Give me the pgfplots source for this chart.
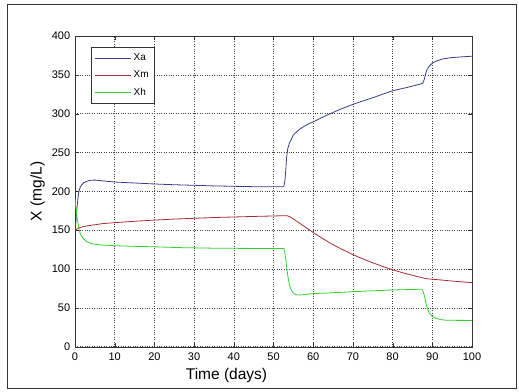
\documentclass[border=0pt]{standalone}
\usepackage{pgfplots}
\pgfplotsset{compat=1.18}
\usepackage{fontspec}
\setmainfont{Liberation Sans}
\definecolor{cXa}{RGB}{60,60,140}
\definecolor{cXm}{RGB}{165,45,55}
\definecolor{cXh}{RGB}{50,210,50}
\begin{document}
\begin{tikzpicture}[x=1pt,y=1pt]
\useasboundingbox (0,0) rectangle (519,391);
\fill[white] (0,0) rectangle (519,391);
\draw[black!80, line width=1pt] (7.5,2.5) rectangle (516,386);
\begin{axis}[
  at={(75pt,44.3pt)}, anchor=south west,
  width=397pt, height=310.7pt, scale only axis,
  xmin=0, xmax=100, ymin=0, ymax=400,
  xtick={0,10,...,100}, ytick={0,50,...,400},
  grid=major,
  major grid style={dotted, black!75, line width=0.6pt},
  axis line style={black!80},
  tick align=inside,
  major tick length=4pt,
  tick style={black!80},
  ticklabel style={font=\fontsize{11}{12}\selectfont},
  /pgf/number format/assume math mode=true,
  xticklabel style={yshift=-3pt},
  yticklabel style={xshift=-1.3pt},
  xlabel={Time (days)},
  ylabel={X (mg/L)},
  xlabel style={at={(axis description cs:0.3816,-0.0675)}, anchor=north, inner sep=0pt, font=\fontsize{15.5}{17}\selectfont},
  ylabel style={at={(axis description cs:-0.0756,0.5)}, anchor=south, inner sep=0pt, font=\fontsize{15.5}{17}\selectfont},
  legend style={at={(axis description cs:0.0395,0.965)}, anchor=north west, draw=black!80, font=\fontsize{10}{11}\selectfont, inner xsep=4pt, inner ysep=5pt, row sep=4.5pt, nodes={inner sep=2pt}, cells={anchor=west}},
  legend image code/.code={\draw[#1, line width=0.8pt] (0pt,0pt) -- (36pt,0pt);},
  every axis plot/.append style={line width=0.8pt},
]
\addplot[cXa] coordinates {
(0,150) (0.2,160) (0.4,172) (0.6,184) (0.8,194) (1.0,200) (1.3,205) (1.7,208.5) (2.2,211) (3,213) (4,214.3) (5,214.5) (6,214) (8,213) (10,212) (14,211) (20,209.5) (25,208.5) (30,207.8) (35,207) (40,206.5) (45,206) (50,205.8) (52.6,205.8) (52.9,215) (53.1,228) (53.3,244) (53.6,255) (54,262) (54.6,268) (55.0,272.5) (55.8,276.5) (56.6,280) (57.5,283) (58.7,286.5) (60,289.5) (62,294.5) (64.3,300) (67,306) (70,312) (72,315.5) (75,320.5) (78,326) (80,329.5) (83,333) (85,335.5) (87.6,339) (87.9,343) (88.2,349) (88.6,356) (89,359.5) (89.4,362) (90,365) (91.1,368) (92.5,370.3) (94.5,372) (97,373) (100,374)
};
\addlegendentry{Xa\hspace{5pt}}
\addplot[cXm] coordinates {
(0,150) (0.5,151.5) (1,153) (2,154.5) (3,155.5) (5,157) (7,158.5) (10,159.7) (15,161.5) (20,163) (25,164.3) (30,165.3) (35,166.3) (40,167) (45,167.7) (50,168.3) (53,168.7) (53.5,168.5) (54,167.5) (55,164.5) (56,161) (57,157.5) (58,154) (60,147) (62,140.5) (64.2,133.5) (67,126) (70,118.5) (73,112) (75,108) (78,102.5) (80,99) (83,94.5) (85,92) (87.6,88.5) (89,87.3) (92,86) (95,84.5) (100,82.5)
};
\addlegendentry{Xm}
\addplot[cXh] coordinates {
(0,190) (0.2,180) (0.4,170) (0.7,160) (1,152) (1.3,146) (1.7,142) (2.2,138.5) (3,135) (4,133) (5,131.8) (7,130.8) (10,130) (15,129.2) (20,128.6) (27,127.5) (35,126.8) (45,126.5) (52.6,126.5) (52.9,120) (53.2,108) (53.5,95) (53.8,85) (54.2,76) (54.7,71) (55.3,68) (56,66.5) (57,66.8) (60,68.3) (65,69.5) (70,70.8) (75,72) (80,73) (85,73.7) (87.4,74) (87.7,71) (88,66) (88.4,56) (88.8,48) (89.3,43) (90,39) (91,36.5) (92,35) (93.5,34) (100,33.8)
};
\addlegendentry{Xh}
\end{axis}
\end{tikzpicture}
\end{document}
